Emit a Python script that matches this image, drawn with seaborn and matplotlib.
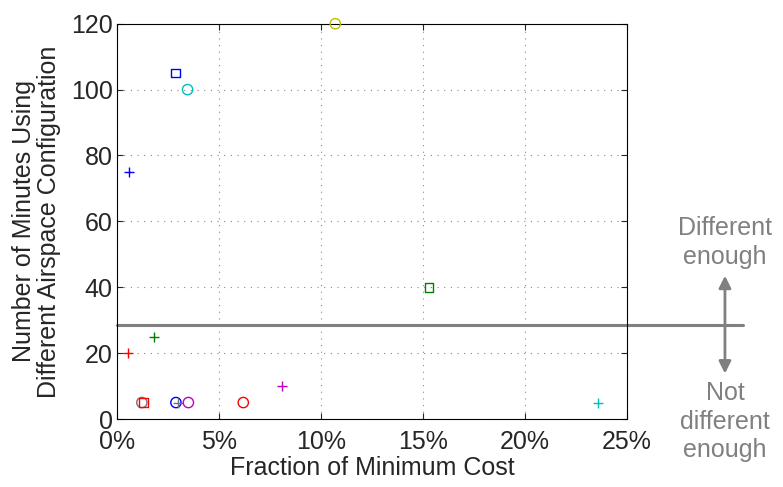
import matplotlib
matplotlib.use("Agg")
import matplotlib.pyplot as plt
import numpy as np
import pandas as pd
import seaborn as sns

cost_frac = [0.59, 2.86, 3.46, 10.7, 15.3, 0.55, 1.83, 8.1, 23.56,
             1.22, 1.29, 2.89, 3.0, 3.5, 6.19]
minutes = [75, 105, 100, 120, 40, 20, 25, 10, 5,
           5, 5, 5, 5, 5, 5]
markers = ["+", "s", "o", "o", "s", "+", "+", "+", "+",
           "o", "s", "o", "+", "o", "o"]
colors = ["b", "b", "c", "y", "g", "r", "g", "m", "c",
          "k", "r", "b", "k", "m", "r"]

threshold = 28.5

MATLAB = {
    "b": (0, 0, 1), "r": (1, 0, 0), "g": (0, 0.5, 0), "c": (0, 0.75, 0.75),
    "m": (0.75, 0, 0.75), "y": (0.75, 0.75, 0), "k": (0.45, 0.45, 0.45),
}

sns.set_style("ticks")
plt.rcParams["font.family"] = ["Liberation Sans", "DejaVu Sans"]

df = pd.DataFrame({"cost": cost_frac, "minutes": minutes,
                   "marker": markers, "color": colors})

fig = plt.figure(figsize=(7.83, 4.87), dpi=100)
ax = fig.add_axes([0.1494, 0.1396, 0.6514, 0.8117])

for i, row in df.iterrows():
    c = MATLAB[row["color"]]
    if row["marker"] == "+":
        sns.scatterplot(x=[row["cost"]], y=[row["minutes"]], ax=ax, marker="+",
                        color=c, s=60, linewidth=1.0, zorder=3, clip_on=False)
    else:
        sns.scatterplot(x=[row["cost"]], y=[row["minutes"]], ax=ax,
                        marker=row["marker"], facecolors="none", edgecolor=c,
                        s=55 if row["marker"] == "o" else 38, linewidth=1.0,
                        zorder=3, clip_on=False)

ax.set_xlim(0, 25)
ax.set_ylim(0, 120)
ax.set_xticks(np.arange(0, 26, 5))
ax.set_xticklabels([f"{v}%" for v in range(0, 26, 5)])
ax.set_yticks(np.arange(0, 121, 20))
ax.grid(True, linestyle=(0, (1, 5)), color="#888888", linewidth=0.8)
ax.tick_params(direction="in", top=True, right=True, labelsize=18, length=4)
ax.tick_params(axis="y", pad=3)
ax.tick_params(axis="x", pad=8)
for sp in ax.spines.values():
    sp.set_color("black")
    sp.set_linewidth(0.8)
    sp.set_visible(True)

ax.set_xlabel("Fraction of Minimum Cost", fontsize=18, labelpad=1)
ax.set_ylabel("Number of Minutes Using\nDifferent Airspace Configuration",
              fontsize=18, labelpad=7, linespacing=1.05)

# threshold line runs past the right spine
ax.plot([0, 30.7], [threshold, threshold], color="#808080", linewidth=2.2,
        clip_on=False, zorder=2)
ax.annotate("", xy=(29.8, 43.5), xytext=(29.8, 13.8),
            arrowprops=dict(arrowstyle="<|-|>", color="#808080", lw=2.0,
                            mutation_scale=18, shrinkA=0, shrinkB=0),
            annotation_clip=False)
ax.text(29.8, 53.6, "Different\nenough", ha="center", va="center", fontsize=18,
        color="#808080", linespacing=1.25, clip_on=False)
ax.text(29.8, -0.8, "Not\ndifferent\nenough", ha="center", va="center",
        fontsize=18, color="#808080", linespacing=1.25, clip_on=False)

fig.savefig("out.png", dpi=100)
